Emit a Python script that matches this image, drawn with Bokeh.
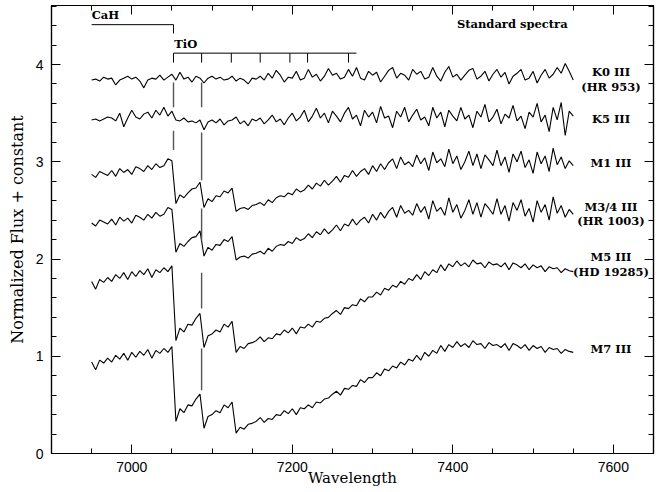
from bokeh.plotting import figure
from bokeh.models import LinearAxis, SingleIntervalTicker, Range1d, ColumnDataSource
from bokeh.core.properties import value
from bokeh.embed import file_html
from bokeh.resources import INLINE

# ---------------- data ----------------
wavelength = [6950 + 5 * i for i in range(121)]

flux_K0 = [3.84, 3.85, 3.83, 3.87, 3.85, 3.86, 3.79, 3.84, 3.86, 3.88, 3.85, 3.87, 3.83, 3.76, 3.84, 3.86, 3.85, 3.89, 3.84, 3.87, 3.90,
           3.84, 3.92, 3.85, 3.87, 3.82, 3.88, 3.86, 3.81, 3.86, 3.88, 3.85, 3.87, 3.84, 3.85, 3.88, 3.83, 3.86, 3.84, 3.80, 3.86,
           3.85, 3.88, 3.84, 3.91, 3.86, 3.94, 3.89, 3.82, 3.87, 3.86, 3.93, 3.84, 3.86, 3.95, 3.87, 3.90, 3.83, 3.88, 3.96, 3.89,
           3.91, 3.85, 3.87, 3.95, 3.88, 3.97, 3.86, 3.84, 3.93, 3.89, 3.92, 3.82, 3.88, 3.94, 3.97, 3.86, 3.91, 3.89, 3.84, 3.95,
           3.90, 3.93, 3.85, 3.87, 3.97, 3.88, 3.83, 3.92, 3.98, 3.87, 3.90, 3.84, 3.89, 3.94, 3.96, 3.85, 3.88, 3.93, 3.83, 3.90,
           3.95, 3.87, 3.92, 3.80, 3.88, 3.91, 3.95, 3.84, 3.86, 3.93, 3.81, 3.89, 3.95, 3.86, 3.90, 3.97, 3.91, 4.01, 3.93, 3.84, 3.86]

flux_K5 = [3.43, 3.44, 3.42, 3.44, 3.46, 3.45, 3.42, 3.50, 3.36, 3.45, 3.53, 3.46, 3.44, 3.49, 3.51, 3.45, 3.53, 3.48, 3.56, 3.47, 3.52,
           3.43, 3.42, 3.45, 3.41, 3.42, 3.40, 3.43, 3.33, 3.41, 3.43, 3.40, 3.44, 3.38, 3.42, 3.43, 3.46, 3.39, 3.42, 3.37, 3.44,
           3.42, 3.45, 3.39, 3.43, 3.48, 3.41, 3.44, 3.38, 3.45, 3.50, 3.42, 3.46, 3.53, 3.41, 3.47, 3.55, 3.45, 3.50, 3.40, 3.52,
           3.47, 3.41, 3.50, 3.56, 3.44, 3.48, 3.37, 3.53, 3.46, 3.51, 3.40, 3.57, 3.45, 3.47, 3.35, 3.52, 3.46, 3.56, 3.41, 3.48,
           3.54, 3.43, 3.46, 3.37, 3.56, 3.45, 3.51, 3.36, 3.53, 3.47, 3.42, 3.56, 3.44, 3.48, 3.35, 3.52, 3.46, 3.59, 3.41, 3.46,
           3.54, 3.39, 3.49, 3.45, 3.58, 3.42, 3.47, 3.34, 3.51, 3.46, 3.60, 3.41, 3.48, 3.31, 3.56, 3.43, 3.61, 3.27, 3.52, 3.47, 3.50]

# early-M trace (M1 III); the M3/4 III trace in the figure is the same curve shifted down
flux_early_M = [2.87, 2.84, 2.90, 2.88, 2.86, 2.91, 2.85, 2.93, 2.89, 2.92, 2.87, 2.95, 2.93, 2.90, 2.96, 2.92, 2.98, 2.94, 2.96, 3.03, 3.01,
                2.57, 2.66, 2.63, 2.68, 2.72, 2.73, 2.79, 2.53, 2.62, 2.59, 2.65, 2.64, 2.70, 2.68, 2.73, 2.49,
                2.52, 2.53, 2.51, 2.55, 2.56, 2.58, 2.55, 2.61, 2.58, 2.63, 2.65, 2.64, 2.68, 2.66, 2.72, 2.69, 2.71, 2.76, 2.72, 2.78, 2.75, 2.81, 2.76, 2.80,
                2.85, 2.79, 2.86, 2.84, 2.91, 2.85, 2.90, 2.93, 2.87, 2.96, 2.90, 2.98, 2.92, 2.99, 3.03, 2.93, 3.05, 2.97, 3.00, 2.95,
                3.07, 2.98, 3.04, 2.91, 3.10, 2.99, 3.03, 2.95, 3.13, 2.98, 3.06, 2.92, 3.00, 3.11, 2.96, 3.08, 2.93, 3.07, 3.02, 2.96,
                3.12, 2.96, 3.05, 2.89, 3.08, 3.00, 3.11, 2.94, 3.02, 2.88, 3.10, 2.98, 3.06, 2.90, 3.14, 2.97, 3.05, 2.93, 3.01, 2.96, 2.93]

# late-M trace (M7 III); the M5 III trace in the figure is the same curve shifted up
flux_late_M = [0.94, 0.86, 0.96, 0.93, 0.98, 0.94, 1.01, 0.97, 1.03, 0.96, 1.04, 0.99, 1.05, 1.01, 1.07, 0.98, 1.06, 1.03, 1.08, 1.04, 1.10,
               0.33, 0.46, 0.42, 0.50, 0.49, 0.56, 0.61, 0.26, 0.38, 0.40, 0.44, 0.42, 0.50, 0.47, 0.53, 0.21,
               0.27, 0.25, 0.30, 0.31, 0.33, 0.37, 0.32, 0.36, 0.35, 0.40, 0.39, 0.44, 0.41, 0.46, 0.40, 0.47, 0.46, 0.50, 0.47, 0.53, 0.52, 0.56, 0.57, 0.61,
               0.64, 0.60, 0.67, 0.66, 0.70, 0.69, 0.76, 0.73, 0.78, 0.78, 0.83, 0.80, 0.87, 0.85, 0.90, 0.88, 0.94, 0.91, 0.97, 0.95,
               1.01, 0.96, 1.04, 1.00, 1.06, 1.03, 1.11, 1.05, 1.12, 1.09, 1.15, 1.10, 1.13, 1.09, 1.16, 1.12, 1.13, 1.08, 1.14, 1.11,
               1.12, 1.09, 1.13, 1.06, 1.13, 1.11, 1.08, 1.12, 1.06, 1.11, 1.08, 1.10, 1.04, 1.09, 1.07, 1.08, 1.03, 1.07, 1.05, 1.04, 1.02]

spectra = [flux_K0, flux_K5, flux_early_M, flux_early_M, flux_late_M, flux_late_M]
constants = [0.0, 0.0, 0.0, -0.50, 0.83, 0.0]

star_labels = ["K0 III", "(HR 953)", "K5 III", "M1 III", "M3/4 III", "(HR 1003)", "M5 III", "(HD 19285)", "M7 III"]
star_label_y = [3.92, 3.77, 3.44, 2.99, 2.54, 2.39, 2.02, 1.87, 1.07]

cah_start, cah_end = 6950, 7052
tio_bands = [7052, 7087, 7124, 7160, 7197, 7219, 7270]
tio_end = 7280

# vertical marker lines (pieces drawn between the traces)
marker_x = [7052, 7052, 7087, 7087, 7087, 7087, 7087]
marker_y0 = [3.815, 3.32, 3.815, 3.30, 2.52, 1.86, 1.08]
marker_y1 = [3.56, 3.12, 3.56, 2.81, 2.19, 1.49, 0.65]

x_ticks_interval = 200
y_ticks_interval = 1

# ---------------- figure ----------------
FONT_TICK = "Liberation Sans"
FONT_TXT = "DejaVu Serif"

p = figure(width=655, height=490, x_range=Range1d(6900, 7650), y_range=Range1d(0, 4.607),
           output_backend="svg", toolbar_location=None,
           min_border_left=51, min_border_right=2, min_border_top=5, min_border_bottom=37)
p.grid.visible = False
p.outline_line_color = "black"
p.outline_line_width = 1.2
p.background_fill_color = "white"
p.border_fill_color = "white"


def style_axis(ax, ticker, labels=True):
    ax.ticker = ticker
    ax.axis_line_color = "black"
    ax.axis_line_width = 1.2
    ax.major_tick_in = 9
    ax.major_tick_out = 0
    ax.minor_tick_in = 5
    ax.minor_tick_out = 0
    ax.major_tick_line_color = "black"
    ax.minor_tick_line_color = "black"
    if labels:
        ax.major_label_text_font = FONT_TICK
        ax.major_label_text_font_size = "14px"
        ax.major_label_text_color = "black"
    else:
        ax.major_label_text_color = None
        ax.major_label_text_font_size = "1px"
        ax.major_label_standoff = 0


style_axis(p.xaxis[0], SingleIntervalTicker(interval=x_ticks_interval, num_minor_ticks=4))
style_axis(p.yaxis[0], SingleIntervalTicker(interval=y_ticks_interval, num_minor_ticks=5))
p.xaxis[0].major_label_standoff = 8
p.yaxis[0].major_label_standoff = 8
p.xaxis[0].axis_label = "Wavelength"
p.yaxis[0].axis_label = "Normalized Flux + constant"
for ax, size in ((p.xaxis[0], "15px"), (p.yaxis[0], "16px")):
    ax.axis_label_text_font = FONT_TXT
    ax.axis_label_text_font_style = "normal"
    ax.axis_label_text_font_size = size
    ax.axis_label_text_color = "black"
p.xaxis[0].axis_label_standoff = -6
p.yaxis[0].axis_label_standoff = 6

ra = LinearAxis()
style_axis(ra, SingleIntervalTicker(interval=y_ticks_interval, num_minor_ticks=5), labels=False)
p.add_layout(ra, "right")
ta = LinearAxis()
style_axis(ta, SingleIntervalTicker(interval=x_ticks_interval, num_minor_ticks=4), labels=False)
p.add_layout(ta, "above")

# spectra
for flux, c in zip(spectra, constants):
    p.line(wavelength, [f + c for f in flux], line_color="black", line_width=1.1)

# vertical markers
p.segment(x0=marker_x, y0=marker_y0, x1=marker_x, y1=marker_y1, line_color="#555555", line_width=1.4)

# CaH bracket
p.line([cah_start, cah_end, cah_end], [4.41, 4.41, 4.32], line_color="black", line_width=1)
# TiO bracket
p.line([tio_bands[0], tio_end], [4.117, 4.117], line_color="black", line_width=1)
p.segment(x0=tio_bands, y0=[4.117] * len(tio_bands), x1=tio_bands, y1=[4.02] * len(tio_bands),
          line_color="black", line_width=1)

TXT = dict(text_font=value(FONT_TXT), text_font_size="11.5px", text_font_style="bold",
           text_baseline="middle", text_color="black")
p.text(x=[cah_start], y=[4.505], text=["CaH"], text_align="left", **TXT)
p.text(x=[tio_bands[0] + 1], y=[4.21], text=["TiO"], text_align="left", **TXT)
p.text(x=[7543], y=[4.42], text=["Standard spectra"], text_align="right", **TXT)

src = ColumnDataSource(dict(x=[7597] * len(star_labels), y=star_label_y, t=star_labels))
p.text(x="x", y="y", text="t", source=src, text_align="center", **TXT)

open("out.html", "w").write(file_html(p, INLINE))
